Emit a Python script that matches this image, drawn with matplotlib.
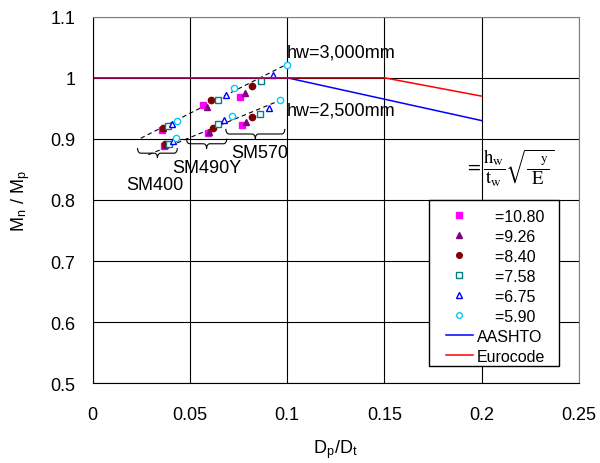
import numpy as np
import matplotlib as mpl
mpl.use('Agg')
import matplotlib.pyplot as plt
from matplotlib.patches import Rectangle

plt.rcParams['font.family'] = ['Liberation Sans', 'DejaVu Sans']
plt.rcParams['mathtext.fontset'] = 'stix'

# legend values (lambda symbol is missing in the source image)
lam_labels = ['=10.80', '=9.26', '=8.40', '=7.58', '=6.75', '=5.90']

# per lambda: SM400, SM490Y, SM570 at hw=3000, then the same at hw=2500
dp_dt = [
    [0.0355, 0.0565, 0.0757, 0.0366, 0.0591, 0.0766],
    [0.0360, 0.0586, 0.0784, 0.0370, 0.0599, 0.0791],
    [0.0363, 0.0608, 0.0822, 0.0372, 0.0620, 0.0822],
    [0.0389, 0.0647, 0.0868, 0.0394, 0.0647, 0.0860],
    [0.0409, 0.0685, 0.0925, 0.0411, 0.0676, 0.0908],
    [0.0435, 0.0728, 0.0997, 0.0428, 0.0714, 0.0963],
]
mn_mp = [
    [0.915, 0.955, 0.969, 0.889, 0.910, 0.922],
    [0.917, 0.952, 0.975, 0.890, 0.912, 0.927],
    [0.918, 0.964, 0.986, 0.892, 0.918, 0.935],
    [0.921, 0.963, 0.994, 0.892, 0.924, 0.941],
    [0.925, 0.972, 1.005, 0.896, 0.931, 0.951],
    [0.930, 0.984, 1.021, 0.901, 0.937, 0.963],
]

# design curves
aashto_x = [0.0, 0.1, 0.2]
aashto_y = [1.0, 1.0, 0.93]
euro_x = [0.0, 0.15, 0.2]
euro_y = [1.0, 1.0, 0.97]

# trend lines for the two web heights
trend_x = [[0.0247, 0.1014], [0.0286, 0.0971]]
trend_y = [[0.901, 1.0246], [0.874, 0.964]]

# braces under the hw=2500 groups
brace_x0 = [0.0231, 0.0483, 0.0685]
brace_x1 = [0.0435, 0.0689, 0.0988]
brace_y = [0.8766, 0.892, 0.908]
steel = ['SM400', 'SM490Y', 'SM570']

styles = [
    ('s', '#FF00FF', True),
    ('^', '#800080', True),
    ('o', '#800000', True),
    ('s', '#008080', False),
    ('^', '#0000FF', False),
    ('o', '#00CCFF', False),
]


def brace(ax, x0, x1, y, dx=0.0016, h=0.0075):
    t = np.linspace(0, np.pi / 2, 12)
    xm = (x0 + x1) / 2
    xs = np.concatenate([
        x0 + dx * (1 - np.cos(t)),
        xm - dx + dx * np.sin(t),
        (xm + dx - dx * np.sin(t))[::-1],
        (x1 - dx * (1 - np.cos(t)))[::-1],
    ])
    ys = np.concatenate([
        y + h * (1 - np.sin(t)),
        y - h + h * np.cos(t),
        (y - h + h * np.cos(t))[::-1],
        (y + h * (1 - np.sin(t)))[::-1],
    ])
    ax.plot(xs, ys, color='black', lw=0.8)


fig = plt.figure(figsize=(6, 4.64), dpi=100)
ax = fig.add_axes([0.1545, 0.1718, 0.81, 0.7901])

ax.set_xlim(0, 0.25)
ax.set_ylim(0.5, 1.1)
ax.set_xticks([0, 0.05, 0.1, 0.15, 0.2, 0.25])
ax.set_xticklabels(['0', '0.05', '0.1', '0.15', '0.2', '0.25'])
ax.set_yticks([0.5, 0.6, 0.7, 0.8, 0.9, 1.0, 1.1])
ax.set_yticklabels(['0.5', '0.6', '0.7', '0.8', '0.9', '1', '1.1'])
ax.tick_params(length=0, labelsize=13)
ax.tick_params(axis='x', pad=16)
ax.tick_params(axis='y', pad=12.5)
ax.grid(True, color='black', lw=0.8)
for s in ['top', 'right']:
    ax.spines[s].set_color('#808080')
for s in ['left', 'bottom']:
    ax.spines[s].set_color('black')

for tx, ty in zip(trend_x, trend_y):
    ax.plot(tx, ty, color='black', lw=0.8, ls=(0, (4, 3)))

handles = []
for i, (m, c, filled) in enumerate(styles):
    h, = ax.plot(dp_dt[i], mn_mp[i], ls='none', marker=m, ms=4.5,
                 mec=c, mfc=c if filled else 'white', mew=1.0,
                 label='    ' + lam_labels[i])
    handles.append(h)

la, = ax.plot(aashto_x, aashto_y, color='#0000FF', lw=1.1, label='AASHTO')
le, = ax.plot(euro_x, euro_y, color='#FF0000', lw=1.1, label='Eurocode')
handles += [la, le]

for x0, x1, y in zip(brace_x0, brace_x1, brace_y):
    brace(ax, x0, x1, y)

ax.text(0.0318, 0.826, steel[0], fontsize=13, ha='center', va='center')
ax.text(0.0587, 0.853, steel[1], fontsize=13, ha='center', va='center')
ax.text(0.0858, 0.878, steel[2], fontsize=13, ha='center', va='center')
ax.text(0.1, 1.042, 'hw=3,000mm', fontsize=13, ha='left', va='center')
ax.text(0.1, 0.9475, 'hw=2,500mm', fontsize=13, ha='left', va='center')

ax.text(0.1915, 0.854,
        r'$=\dfrac{\mathrm{h}_{\mathrm{w}}}{\mathrm{t}_{\mathrm{w}}}'
        r'\sqrt{\dfrac{\quad{}_{\mathrm{y}}}{\mathrm{E}}}$',
        fontsize=13.5, ha='left', va='center')

ax.add_patch(Rectangle((0.692, 0.0464), 0.2675, 0.4536, transform=ax.transAxes,
                       facecolor='white', edgecolor='black', lw=1.0, zorder=4))
leg = ax.legend(handles=handles, loc='upper left', frameon=False,
                bbox_to_anchor=(446 / 600, 1 - 210 / 464),
                bbox_transform=fig.transFigure, fontsize=11.5,
                handlelength=1.67, handletextpad=0.25, labelspacing=0.31,
                borderpad=0, borderaxespad=0, markerscale=0.9)
leg.set_zorder(5)

ax.set_xlabel(r'D$_\mathregular{p}$/D$_\mathregular{t}$', fontsize=13, labelpad=11)
ax.set_ylabel(r'M$_\mathregular{n}$ / M$_\mathregular{p}$', fontsize=13, labelpad=13)

fig.savefig('out.png', dpi=100)
